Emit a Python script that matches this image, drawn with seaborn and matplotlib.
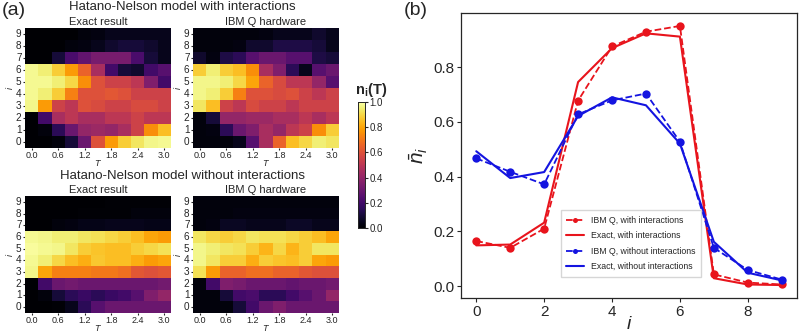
import pandas as pd
import matplotlib
matplotlib.use('Agg')
import matplotlib.pyplot as plt
import seaborn as sns

# time steps (columns) and lattice sites (rows) of the heatmaps
times = [0.0, 0.3, 0.6, 0.9, 1.2, 1.5, 1.8, 2.1, 2.4, 2.7, 3.0]
sites = [0, 1, 2, 3, 4, 5, 6, 7, 8, 9]

# n_i(T), rows listed from site 0 to site 9
exact_int = [
    [0.00, 0.00, 0.02, 0.10, 0.30, 0.60, 0.78, 0.88, 0.93, 0.97, 0.98],
    [0.00, 0.02, 0.15, 0.30, 0.40, 0.42, 0.40, 0.45, 0.55, 0.75, 0.85],
    [0.00, 0.20, 0.45, 0.50, 0.45, 0.45, 0.50, 0.50, 0.55, 0.50, 0.50],
    [0.97, 0.78, 0.55, 0.50, 0.60, 0.58, 0.55, 0.55, 0.58, 0.58, 0.55],
    [0.98, 0.95, 0.88, 0.72, 0.60, 0.60, 0.62, 0.60, 0.55, 0.55, 0.55],
    [0.98, 0.98, 0.95, 0.90, 0.75, 0.60, 0.55, 0.55, 0.50, 0.35, 0.20],
    [0.98, 0.95, 0.88, 0.78, 0.65, 0.45, 0.20, 0.10, 0.08, 0.20, 0.25],
    [0.00, 0.00, 0.10, 0.22, 0.28, 0.33, 0.33, 0.33, 0.22, 0.10, 0.05],
    [0.00, 0.00, 0.00, 0.02, 0.03, 0.05, 0.08, 0.10, 0.10, 0.08, 0.05],
    [0.00, 0.00, 0.00, 0.00, 0.02, 0.03, 0.05, 0.05, 0.05, 0.05, 0.05],
]
ibm_int = [
    [0.02, 0.02, 0.02, 0.05, 0.25, 0.45, 0.65, 0.85, 0.90, 0.95, 0.93],
    [0.02, 0.03, 0.15, 0.30, 0.35, 0.45, 0.40, 0.50, 0.55, 0.75, 0.88],
    [0.02, 0.10, 0.40, 0.40, 0.42, 0.42, 0.45, 0.45, 0.50, 0.45, 0.50],
    [0.93, 0.85, 0.55, 0.50, 0.58, 0.55, 0.55, 0.50, 0.55, 0.55, 0.55],
    [0.97, 0.95, 0.88, 0.72, 0.60, 0.60, 0.58, 0.60, 0.55, 0.50, 0.55],
    [0.97, 0.97, 0.95, 0.90, 0.80, 0.65, 0.58, 0.50, 0.50, 0.40, 0.25],
    [0.88, 0.95, 0.88, 0.85, 0.75, 0.45, 0.35, 0.15, 0.05, 0.25, 0.30],
    [0.08, 0.03, 0.12, 0.15, 0.25, 0.30, 0.30, 0.25, 0.25, 0.12, 0.10],
    [0.02, 0.02, 0.02, 0.03, 0.08, 0.08, 0.12, 0.12, 0.12, 0.10, 0.05],
    [0.02, 0.02, 0.02, 0.02, 0.02, 0.03, 0.05, 0.05, 0.05, 0.08, 0.05],
]
exact_noint = [
    [0.00, 0.00, 0.01, 0.05, 0.15, 0.25, 0.30, 0.30, 0.30, 0.30, 0.30],
    [0.00, 0.02, 0.10, 0.15, 0.18, 0.15, 0.18, 0.20, 0.25, 0.35, 0.40],
    [0.00, 0.20, 0.30, 0.32, 0.30, 0.30, 0.30, 0.30, 0.30, 0.30, 0.32],
    [0.97, 0.80, 0.72, 0.72, 0.72, 0.70, 0.70, 0.68, 0.62, 0.60, 0.62],
    [0.98, 0.95, 0.90, 0.85, 0.82, 0.87, 0.85, 0.85, 0.82, 0.78, 0.80],
    [0.99, 0.98, 0.97, 0.93, 0.88, 0.86, 0.85, 0.85, 0.88, 0.90, 0.92],
    [0.98, 0.97, 0.95, 0.95, 0.93, 0.92, 0.90, 0.88, 0.85, 0.80, 0.78],
    [0.00, 0.00, 0.02, 0.03, 0.04, 0.04, 0.05, 0.05, 0.05, 0.04, 0.04],
    [0.00, 0.00, 0.00, 0.00, 0.01, 0.01, 0.01, 0.01, 0.02, 0.02, 0.02],
    [0.00, 0.00, 0.00, 0.00, 0.00, 0.00, 0.01, 0.01, 0.01, 0.01, 0.01],
]
ibm_noint = [
    [0.02, 0.02, 0.02, 0.10, 0.20, 0.30, 0.35, 0.30, 0.30, 0.30, 0.30],
    [0.02, 0.02, 0.10, 0.20, 0.22, 0.15, 0.15, 0.20, 0.25, 0.30, 0.40],
    [0.02, 0.20, 0.35, 0.33, 0.30, 0.30, 0.30, 0.28, 0.30, 0.30, 0.32],
    [0.92, 0.78, 0.65, 0.65, 0.68, 0.68, 0.65, 0.65, 0.62, 0.60, 0.60],
    [0.97, 0.93, 0.88, 0.88, 0.82, 0.88, 0.86, 0.85, 0.88, 0.80, 0.78],
    [0.97, 0.95, 0.93, 0.92, 0.88, 0.83, 0.90, 0.83, 0.88, 0.93, 0.93],
    [0.93, 0.90, 0.88, 0.90, 0.93, 0.92, 0.92, 0.90, 0.88, 0.85, 0.80],
    [0.02, 0.03, 0.06, 0.06, 0.05, 0.05, 0.05, 0.07, 0.07, 0.05, 0.05],
    [0.02, 0.02, 0.02, 0.03, 0.03, 0.03, 0.03, 0.03, 0.03, 0.03, 0.03],
    [0.02, 0.02, 0.02, 0.02, 0.02, 0.02, 0.02, 0.02, 0.02, 0.02, 0.02],
]

# panel (b): time-averaged occupation per site
ibm_int_avg = [0.165, 0.140, 0.210, 0.678, 0.876, 0.930, 0.951, 0.043, 0.013, 0.006]
exact_int_avg = [0.149, 0.152, 0.232, 0.746, 0.870, 0.924, 0.912, 0.029, 0.006, 0.004]
ibm_noint_avg = [0.467, 0.418, 0.372, 0.628, 0.679, 0.704, 0.528, 0.140, 0.059, 0.024]
exact_noint_avg = [0.493, 0.395, 0.417, 0.622, 0.690, 0.661, 0.521, 0.162, 0.049, 0.021]

sns.set_style('ticks')
plt.rcParams['font.family'] = ['Liberation Sans', 'DejaVu Sans']
plt.rcParams['mathtext.fontset'] = 'custom'
plt.rcParams['mathtext.rm'] = 'Liberation Sans'
plt.rcParams['mathtext.it'] = 'Liberation Sans:italic'
plt.rcParams['mathtext.bf'] = 'Liberation Sans:bold'

W, H = 799, 335
fig = plt.figure(figsize=(W / 100, H / 100), dpi=100)


def box(x0, y0, x1, y1):
    # pixel box -> figure fraction
    return [x0 / W, 1 - y1 / H, (x1 - x0) / W, (y1 - y0) / H]


col_names = [f'{t:.1f}' for t in times]
cax = fig.add_axes(box(358, 102, 365, 228))

panels = [
    (exact_int, box(25, 28, 171, 148), 'Exact result'),
    (ibm_int, box(193, 28, 339, 148), 'IBM Q hardware'),
    (exact_noint, box(25, 196, 171, 313), 'Exact result'),
    (ibm_noint, box(193, 196, 339, 313), 'IBM Q hardware'),
]
for k, (vals, rect, title) in enumerate(panels):
    ax = fig.add_axes(rect)
    df = pd.DataFrame(vals, index=sites, columns=col_names).iloc[::-1]
    sns.heatmap(df, ax=ax, cmap='inferno', vmin=0, vmax=1,
                xticklabels=2, yticklabels=1,
                cbar=(k == 0), cbar_ax=cax if k == 0 else None)
    ax.set_title(title, fontsize=8, pad=2)
    ax.set_xlabel('$T$', fontsize=6.5, labelpad=-2)
    ax.set_ylabel('$i$', fontsize=6.5, labelpad=1)
    ax.tick_params(axis='x', labelsize=6.5, length=1.5, pad=1)
    ax.tick_params(axis='y', labelsize=7.2, length=1.5, pad=1)
    plt.setp(ax.get_xticklabels(), rotation=0)
    plt.setp(ax.get_yticklabels(), rotation=0)

cax.tick_params(labelsize=7, length=2, pad=1)
cax.set_yticks([0, 0.2, 0.4, 0.6, 0.8, 1.0])
for s in cax.spines.values():
    s.set_visible(True)
    s.set_linewidth(0.6)
fig.text(355 / W, 1 - 90 / H, r'$\mathbf{n_i(T)}$', fontsize=10.5, va='center')

fig.text(182 / W, 1 - 7 / H, 'Hatano-Nelson model with interactions',
         fontsize=9.5, ha='center', va='center')
fig.text(182 / W, 1 - 176 / H, 'Hatano-Nelson model without interactions',
         fontsize=9.5, ha='center', va='center')
fig.text(2 / W, 1 - 2 / H, '(a)', fontsize=14, va='top')
fig.text(404 / W, 1 - 2 / H, '(b)', fontsize=14, va='top')

# panel (b)
axb = fig.add_axes(box(461, 13, 797, 298))
sns.lineplot(x=sites, y=ibm_int_avg, ax=axb, color='#e8141c', linestyle='--',
             marker='o', markersize=6, markeredgewidth=0, lw=1.3,
             label='IBM Q, with interactions')
sns.lineplot(x=sites, y=exact_int_avg, ax=axb, color='#e8141c', lw=1.5,
             label='Exact, with interactions')
sns.lineplot(x=sites, y=ibm_noint_avg, ax=axb, color='#1414e0', linestyle='--',
             marker='o', markersize=6, markeredgewidth=0, lw=1.3,
             label='IBM Q, without interactions')
sns.lineplot(x=sites, y=exact_noint_avg, ax=axb, color='#1414e0', lw=1.5,
             label='Exact, without interactions')
axb.set_xticks([0, 2, 4, 6, 8])
axb.set_yticks([0.0, 0.2, 0.4, 0.6, 0.8])
axb.set_yticklabels(['0.0', '0.2', '0.4', '0.6', '0.8'])
axb.tick_params(labelsize=11, length=3, width=0.8, pad=2)
axb.set_xlabel('$i$', fontsize=14, labelpad=-2)
axb.set_ylabel(r'$\bar{n}_i$', fontsize=15, labelpad=2)
for s in axb.spines.values():
    s.set_visible(True)
    s.set_linewidth(0.9)
axb.legend(loc='lower left', bbox_to_anchor=(0.285, 0.06), fontsize=6.3,
           markerscale=0.6, handlelength=2.0, borderpad=0.6, labelspacing=0.75,
           fancybox=False, edgecolor='#cccccc')

fig.savefig('out.png', dpi=100)
